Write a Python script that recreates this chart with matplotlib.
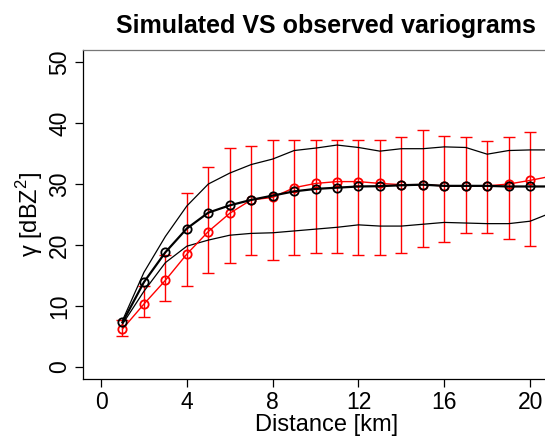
import numpy as np
import matplotlib
matplotlib.use('Agg')
import matplotlib.pyplot as plt

plt.rcParams['font.family'] = ['Liberation Sans', 'DejaVu Sans']
plt.rcParams['mathtext.fontset'] = 'custom'
plt.rcParams['mathtext.rm'] = 'Liberation Sans'

# distance lags [km]
dist = [1, 2, 3, 4, 5, 6, 7, 8, 9, 10, 11, 12, 13, 14, 15, 16, 17, 18, 19, 20, 21]

# simulated variograms: mean and envelope
sim_mean = [7.3, 13.9, 18.8, 22.7, 25.3, 26.5, 27.4, 28.1, 28.8, 29.2, 29.4,
            29.6, 29.65, 29.8, 29.9, 29.7, 29.7, 29.7, 29.6, 29.6, 29.6]
sim_upper = [7.6, 15.5, 21.4, 26.4, 30.0, 31.8, 33.2, 34.1, 35.5, 35.9, 36.4,
             36.0, 35.4, 35.8, 35.8, 36.1, 36.0, 34.9, 35.5, 35.6, 35.6]
sim_lower = [7.0, 12.4, 17.1, 19.8, 20.8, 21.6, 21.9, 22.0, 22.3, 22.6, 22.9,
             23.3, 23.1, 23.1, 23.4, 23.7, 23.6, 23.5, 23.5, 23.9, 25.3]

# observed variogram with error bars
obs = [6.2, 10.3, 14.2, 18.5, 22.2, 25.2, 27.4, 27.8, 29.4, 30.1, 30.4,
       30.4, 30.1, 29.9, 29.9, 29.7, 29.7, 29.7, 30.0, 30.6, 31.3]
obs_hi = [7.7, 13.2, 18.3, 28.5, 32.8, 35.9, 36.2, 37.2, 37.3, 37.3, 37.2,
          37.3, 37.3, 37.8, 38.8, 37.9, 37.7, 37.0, 37.7, 38.6, 38.6]
obs_lo = [5.1, 8.1, 10.8, 13.3, 15.4, 17.0, 18.3, 17.6, 18.3, 18.6, 18.7,
          18.3, 18.4, 18.7, 19.6, 20.5, 22.0, 22.0, 21.0, 19.9, 19.9]

W, H = 545, 438
fig = plt.figure(figsize=(W / 100, H / 100), dpi=100)
# the plot region runs past the right edge of the picture
ax = fig.add_axes([83 / W, 1 - 379 / H, (569.6 - 83) / W, (379 - 50) / H])

obs = np.array(obs)
yerr = [obs - np.array(obs_lo), np.array(obs_hi) - obs]
ax.errorbar(dist, obs, yerr=yerr, fmt='none', ecolor='red', elinewidth=1,
            capsize=4.5, capthick=1, zorder=2)
ax.plot(dist, sim_upper, color='black', lw=0.9, zorder=3)
ax.plot(dist, sim_lower, color='black', lw=0.9, zorder=3)
ax.plot(dist, obs, color='red', lw=1, marker='o', ms=6, mfc='none',
        mew=1.3, zorder=4)
ax.plot(dist, sim_mean, color='black', lw=1.6, marker='o', ms=6, mfc='none',
        mew=1.3, zorder=5)

ax.set_xlim(-0.84, 21.84)
ax.set_ylim(-2, 52)
ax.set_xticks([0, 4, 8, 12, 16, 20])
ax.set_yticks([0, 10, 20, 30, 40, 50])
ax.tick_params(direction='out', length=5.5, width=0.9, labelsize=16.5, pad=3)
for lbl in ax.get_yticklabels():
    lbl.set_rotation(90)
    lbl.set_va('center')
for sp in ax.spines.values():
    sp.set_linewidth(0.9)
ax.spines['top'].set_color('#777777')

ax.set_xlabel('Distance [km]', fontsize=17, labelpad=0)
ax.set_ylabel('γ [dBZ$^{\\mathrm{2}}$]', fontsize=17, labelpad=2)
ax.set_title('Simulated VS observed variograms', fontsize=18,
             fontweight='bold', pad=12)

fig.savefig('out.png', dpi=100)
